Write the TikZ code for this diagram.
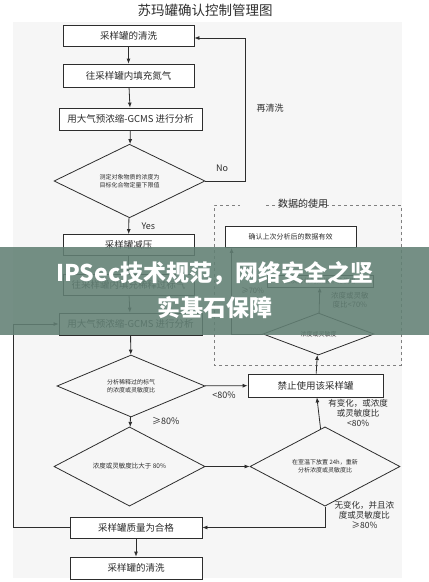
\documentclass[tikz,border=0pt]{standalone}
\usepackage{fontspec}
\setmainfont{Noto Sans CJK SC}
\usetikzlibrary{arrows.meta,shapes.geometric}
\definecolor{inkgray}{RGB}{45,45,45}
\definecolor{panelgray}{RGB}{246,246,246}
\definecolor{bandgreen}{RGB}{98,128,116}

\begin{document}
\begin{tikzpicture}[x=1pt, y=-1pt,
		box/.style={draw=inkgray, thick, fill=white, inner sep=0pt, font=\fontsize{9.5}{11}\selectfont, text=inkgray},
		choice/.style={draw=inkgray, thick, diamond, inner sep=0pt, align=center, font=\fontsize{6}{8}\selectfont, text=inkgray},
		note/.style={font=\fontsize{8.5}{10}\selectfont, text=inkgray, align=center},
		arr/.style={-{Latex[length=5pt,width=4pt]}, thick, draw=inkgray}]
	\useasboundingbox (0,0) rectangle (429,582);
	\fill [panelgray] (13,22) rectangle (402,578);
	\node [font=\fontsize{13.5}{15}\selectfont, text=inkgray] (title) at (205,10) {苏玛罐确认控制管理图};

	% left column
	\node [box, minimum width=131pt, minimum height=21pt] (wash) at (128.5,35.5) {采样罐的清洗};
	\node [box, minimum width=131pt, minimum height=23pt] (fill) at (128.5,75.5) {往采样罐内填充氮气};
	\node [box, minimum width=143pt, minimum height=22pt] (gcms) at (130.5,119) {用大气预浓缩-GCMS 进行分析};
	\node [choice, minimum width=151pt, minimum height=63pt] (limit) at (129.5,181) {测定对象物质的浓度为\\目标化合物定量下限值};
	\node [box, minimum width=131pt, minimum height=21pt] (vent) at (128.5,245) {采样罐减压};
	\node [box, minimum width=131pt, minimum height=21pt] (std) at (128.5,285) {往采样罐内填充稀释过标气};
	\node [box, minimum width=143pt, minimum height=22pt] (regcms) at (130.5,324) {用大气预浓缩-GCMS 进行分析};
	\node [choice, minimum width=148pt, minimum height=62pt] (ratio) at (131,386) {分析稀释过的标气\\的浓度或灵敏度比};
	\node [choice, minimum width=151pt, minimum height=63pt, font=\fontsize{6.5}{8}\selectfont] (over) at (129.5,466.5) {浓度或灵敏度比大于 80\%};
	\node [box, minimum width=132pt, minimum height=21pt] (pass) at (136,527.5) {采样罐质量为合格};
	\node [box, minimum width=132pt, minimum height=22pt] (wash2) at (136,568) {采样罐的清洗};

	% right column
	\node [box, minimum width=135pt, minimum height=23pt] (ban) at (315.5,385.5) {禁止使用该采样罐};
	\node [choice, minimum width=150pt, minimum height=63pt] (wait) at (325,466.5) {在室温下放置 24h，重新\\分析浓度或灵敏度比};

	% data usage frame
	\draw [gray, dashed] (266,205) -| (401,365) -| (214,205) -- (240,205);
	\node [note, font=\fontsize{10}{12}\selectfont] (usage) at (303,204) {数据的使用};
	\node [box, minimum width=131pt, minimum height=21pt, font=\fontsize{7}{8}\selectfont] (valid) at (290.5,237) {确认上次分析后的数据有效};
	\node [box, minimum width=106pt, minimum height=12pt, font=\fontsize{6.5}{8}\selectfont] (invalid) at (320,281) {上次分析的数据不能使用};
	\node [choice, minimum width=111pt, minimum height=42pt] (check) at (318.5,334) {浓度或灵敏度};

	\draw [arr] (wash) -- (fill);
	\draw [arr] (fill) -- (gcms);
	\draw [arr] (gcms) -- (limit);
	\draw [arr] (limit.east) -- ++(40,0) |- ([yshift=-2.5pt]wash.east);
	\node [note, font=\fontsize{9}{10}\selectfont] (no) at (222,168) {No};
	\node [note, font=\fontsize{9}{10}\selectfont] (again) at (270,108) {再清洗};
	\draw [arr] (limit) -- (vent) node [note, pos=0.5, right=9pt, font=\fontsize{9}{10}\selectfont] {Yes};
	\draw [arr] (vent) -- (std);
	\draw [arr] (std) -- (regcms);
	\draw [arr] (regcms) -- (ratio);
	\draw [arr] (ratio) -- (ban) node [note, pos=0.45, below=2pt, font=\fontsize{9}{10}\selectfont] {<80\%};
	\draw [arr] (ratio) -- (over) node [note, pos=0.45, right=18pt, font=\fontsize{9}{10}\selectfont] {≥80\%};
	\draw [arr] (over) -- (wait);
	\draw [arr] (wait) -- (ban) node [note, midway, right=6pt] {有变化，或浓度\\或灵敏度比\\<80\%};
	\draw [arr] (wait.south) |- (pass.east) node [note, pos=0.2, right=6pt] {无变化，并且浓\\度或灵敏度比\\≥80\%};
	\coordinate (loop) at (13,527.5);
	\draw [arr] (pass.west) -- (loop) |- (regcms.west);
	\draw [arr] (pass) -- (wash2);
	\draw [arr] (ban) -- (check);
	\draw [arr] (check) -- (invalid) node [note, midway, right=8pt, font=\fontsize{7.5}{9}\selectfont] {浓度或灵敏\\度比<70\%};
	\draw [arr] (check.west) -| ([xshift=7pt]valid.south west) node [note, pos=0.75, right=6pt, font=\fontsize{7.5}{9}\selectfont] {≥70\%};

	% banner
	\fill [bandgreen, opacity=0.88] (0,247) rectangle (429,335);
	\node [text=white, font=\bfseries\fontsize{23}{26}\selectfont] (band1) at (215,273) {IPSec技术规范，网络安全之坚};
	\node [text=white, font=\bfseries\fontsize{23}{26}\selectfont] (band2) at (215,308) {实基石保障};
\end{tikzpicture}
\end{document}
